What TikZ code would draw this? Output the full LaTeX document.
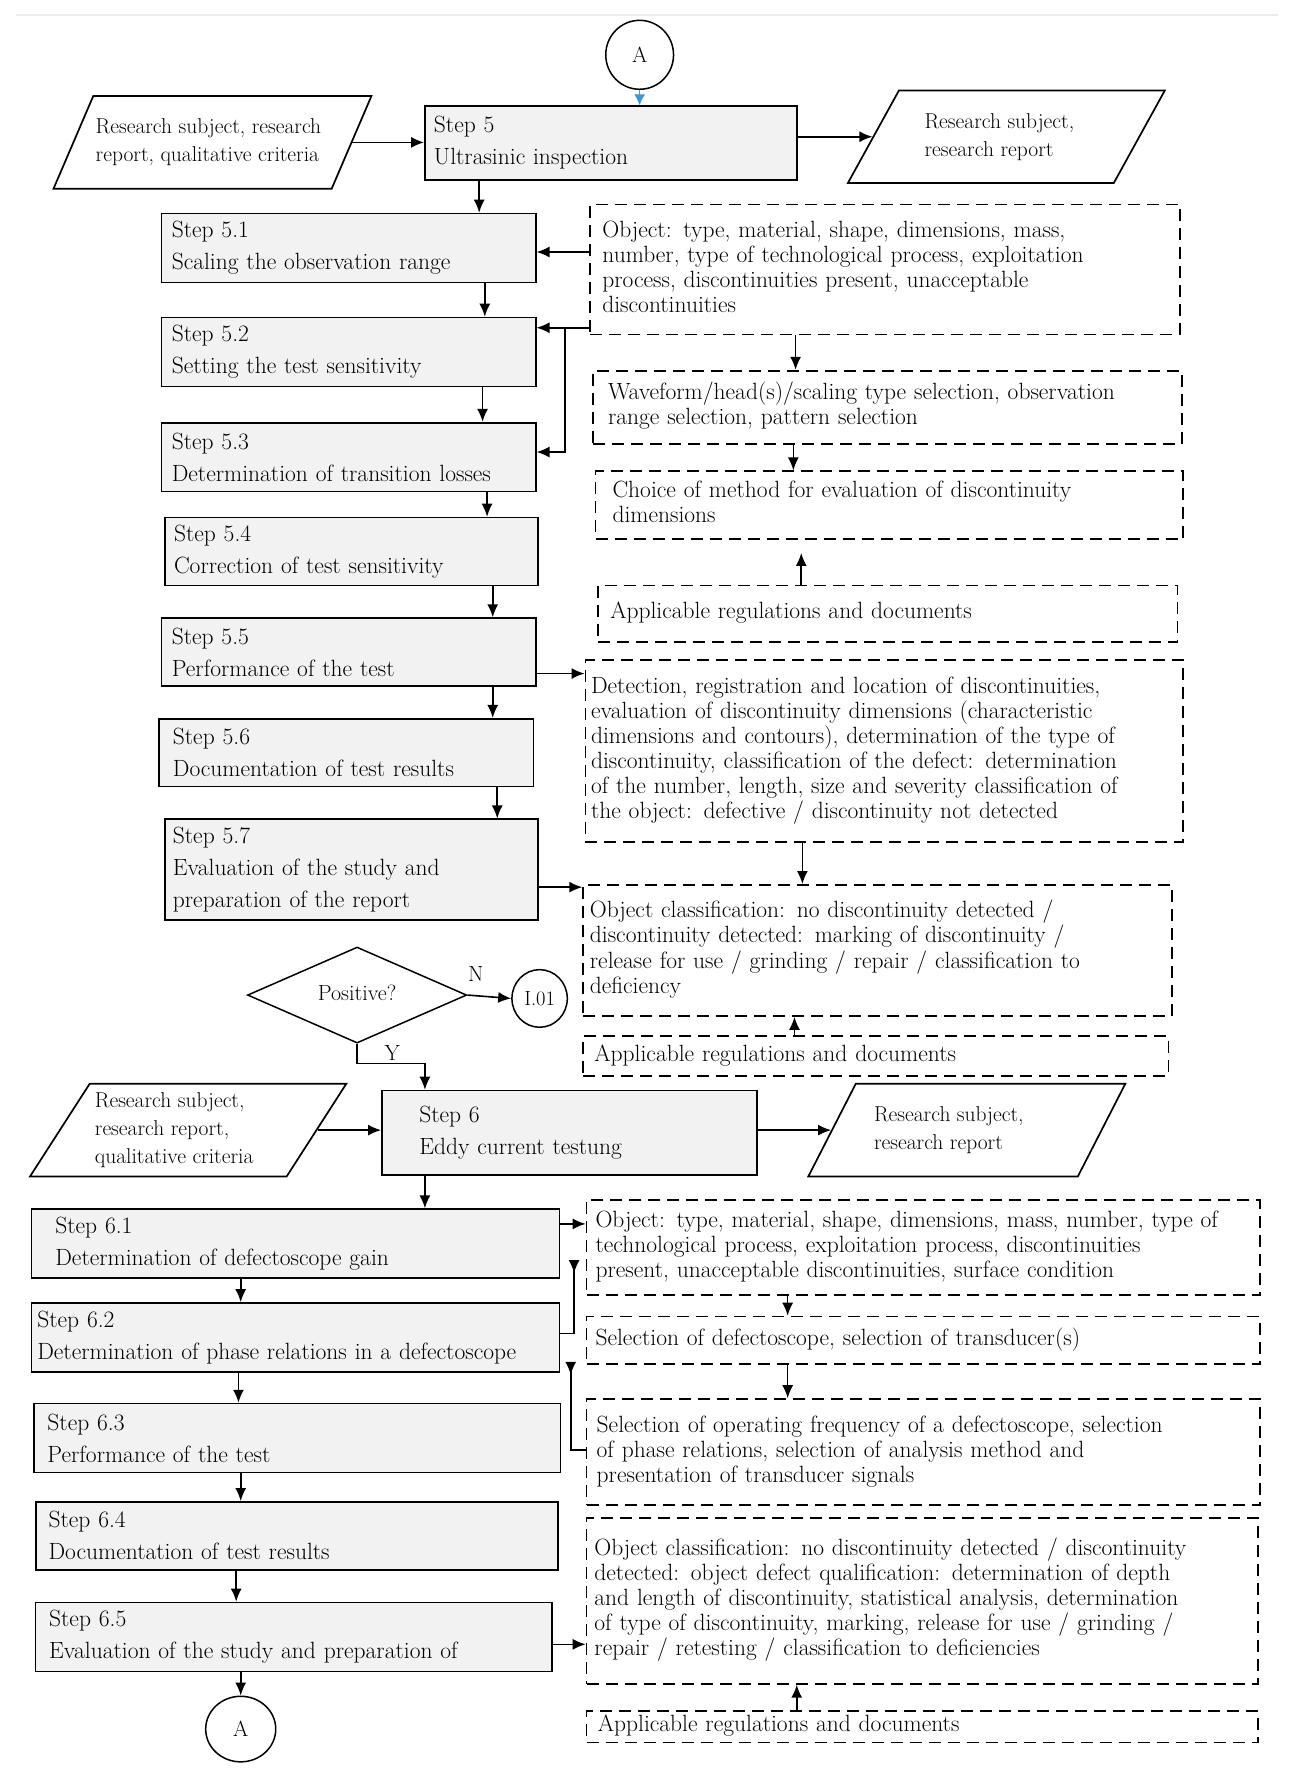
\documentclass[tikz,border=0pt]{standalone}
\usepackage{fontspec}
\usetikzlibrary{shapes.geometric,arrows.meta}
\definecolor{stepgray}{RGB}{242,242,242}
\definecolor{tipblue}{RGB}{60,150,215}
\definecolor{topline}{RGB}{236,236,236}
\newcommand\mylines[1]{\begin{tabular}{@{}l@{}}#1\end{tabular}}
\tikzset{
  sz/.style n args={3}{text width={(#1-2*#3)*1.13pt}, inner xsep={#3*1.13pt}, minimum height={#2*1.13pt}, inner ysep=0pt},
  stepbox/.style={draw, line width=1.7pt, fill=stepgray, rectangle, align=left, font=\fontsize{23.5}{32}\selectfont},
  dbox/.style={draw, line width=1.7pt, dash pattern=on 12pt off 7pt, rectangle, align=left, font=\fontsize{23.5}{25}\selectfont},
  para/.style n args={3}{draw, line width=1.7pt, trapezium, trapezium stretches=true, trapezium left angle=#3, trapezium right angle={180-#3}, minimum width={#1*1.13pt}, minimum height={#2*1.13pt}, inner sep=0pt, align=left, font=\fontsize{21.5}{28}\selectfont},
  arr/.style={line width=1.6pt, -{Latex[length=13pt,width=11pt]}},
  revarr/.style={line width=1.6pt, -{Latex[length=13pt,width=11pt,reversed]}},
  revarrs/.style={line width=1.6pt, {Latex[length=13pt,width=11pt,reversed]}-},
  lbl/.style={font=\fontsize{22}{24}\selectfont, inner sep=0pt},
}
\begin{document}
\begin{tikzpicture}[x=1.13pt, y=-1.13pt]
\fill[white] (0,0) rectangle (1146,1568);
\useasboundingbox (0,0) rectangle (1146,1568);
\draw[topline, line width=2pt] (14,13) -- (1131,13);

% ---- upper part ----
\node[draw, line width=1.5pt, ellipse, minimum width=60*1.13pt, minimum height=61*1.13pt, inner sep=0pt, font=\fontsize{22}{24}\selectfont] (A1) at (566,48.5) {A};
\node[stepbox, sz={329}{65}{8}] (s5) at (540.5,126.5) {Step 5\\Ultrasinic inspection};
\node[para={282}{82}{55.2}] (p1) at (188,126) {\mylines{Research subject, research\\report, qualitative criteria}\hspace*{8pt}};
\node[para={281}{82}{55.2}] (p2) at (890.5,121) {\mylines{Research subject,\\research report}\hspace*{14pt}};

\node[stepbox, sz={331}{61}{9}] (s51) at (308.5,219.5) {Step 5.1\\Scaling the observation range};
\node[stepbox, sz={331}{61}{9}] (s52) at (308.5,311.5) {Step 5.2\\Setting the test sensitivity};
\node[stepbox, sz={331}{61}{9}] (s53) at (308.5,404.5) {Step 5.3\\Determination of transition losses};
\node[stepbox, sz={330}{60}{8}] (s54) at (311,488) {Step 5.4\\Correction of test sensitivity};
\node[stepbox, sz={331}{60}{9}] (s55) at (308.5,577) {Step 5.5\\Performance of the test};
\node[stepbox, sz={331}{60}{12}] (s56) at (306.5,666) {Step 5.6\\Documentation of test results};
\node[stepbox, sz={330}{89}{7}] (s57) at (311,769.5) {Step 5.7\\Evaluation of the study and\\preparation of the report};

\node[dbox, sz={522}{115}{11}] (D1) at (783,238.5) {\mylines{Object: type, material, shape, dimensions, mass,\\number, type of technological process, exploitation\\process, discontinuities present, unacceptable\\discontinuities}};
\node[dbox, sz={521}{65}{13}] (D2) at (785.5,360.5) {\mylines{Waveform/head(s)/scaling type selection, observation\\range selection, pattern selection}};
\node[dbox, sz={520}{60}{15}] (D3) at (787,447) {\mylines{Choice of method for evaluation of discontinuity\\dimensions}};
\node[dbox, sz={513}{50}{11}] (D4) at (785.5,543) {\mylines{Applicable regulations and documents}};
\node[dbox, sz={529}{161}{5}] (D5) at (782.5,664.5) {\mylines{Detection, registration and location of discontinuities,\\evaluation of discontinuity dimensions (characteristic\\dimensions and contours), determination of the type of\\discontinuity, classification of the defect: determination\\of the number, length, size and severity classification of\\the object: defective / discontinuity not detected}};
\node[dbox, sz={521}{116}{6}] (D6) at (776.5,841) {\mylines{Object classification: no discontinuity detected /\\discontinuity detected: marking of discontinuity /\\release for use / grinding / repair / classification to\\deficiency}};
\node[dbox, sz={518}{35}{10}] (D7) at (775,934.5) {\mylines{Applicable regulations and documents}};

\node[draw, line width=1.5pt, diamond, aspect=2.28, minimum width=194*1.13pt, minimum height=85*1.13pt, inner sep=0pt, font=\fontsize{22}{24}\selectfont] (dec) at (316,880.5) {\raisebox{5pt}{Positive?}};
\node[draw, line width=1.5pt, ellipse, minimum width=49*1.13pt, minimum height=51*1.13pt, inner sep=0pt, font=\fontsize{20.5}{22}\selectfont] (I01) at (477.5,883.5) {I.01};
\node[lbl] (lN) at (421,862) {N};
\node[lbl] (lY) at (347,932) {Y};

% ---- lower part ----
\node[stepbox, sz={332}{75}{33}] (s6) at (504,1002.5) {Step 6\\Eddy current testung};
\node[para={281}{82}{56.1}] (p3) at (166.5,1000) {\mylines{Research subject,\\research report,\\qualitative criteria}\hspace*{28pt}};
\node[para={281}{82}{54.7}] (p4) at (855.5,1000) {\mylines{Research subject,\\research report}\hspace*{36pt}};

\node[stepbox, sz={467}{61}{21}] (s61) at (261.5,1100.5) {Step 6.1\\Determination of defectoscope gain};
\node[stepbox, sz={467}{61}{5}] (s62) at (261.5,1183.5) {Step 6.2\\\mbox{Determination of phase relations in a defectoscope}};
\node[stepbox, sz={466}{61}{12}] (s63) at (263,1272.5) {Step 6.3\\Performance of the test};
\node[stepbox, sz={462}{60}{11}] (s64) at (263,1359) {Step 6.4\\Documentation of test results};
\node[stepbox, sz={457}{61}{12}] (s65) at (260,1448.5) {Step 6.5\\Evaluation of the study and preparation of};
\node[draw, line width=1.5pt, ellipse, minimum width=62*1.13pt, minimum height=58*1.13pt, inner sep=0pt, font=\fontsize{22}{24}\selectfont] (A2) at (213,1530) {A};

\node[dbox, sz={596}{84}{8}] (D8) at (817,1104) {\mylines{Object: type, material, shape, dimensions, mass, number, type of\\technological process, exploitation process, discontinuities\\present, unacceptable discontinuities, surface condition}};
\node[dbox, sz={596}{42}{8}] (D9) at (817,1186) {\mylines{Selection of defectoscope, selection of transducer(s)}};
\node[dbox, sz={596}{94}{9}] (D10) at (817,1285) {\mylines{Selection of operating frequency of a defectoscope, selection\\of phase relations, selection of analysis method and\\presentation of transducer signals}};
\node[dbox, sz={594}{147}{7}] (D11) at (816,1416.5) {\mylines{Object classification: no discontinuity detected / discontinuity\\detected: object defect qualification: determination of depth\\and length of discontinuity, statistical analysis, determination\\of type of discontinuity, marking, release for use / grinding /\\repair / retesting / classification to deficiencies}};
\node[dbox, sz={594}{28}{10}] (D12) at (816,1528) {\mylines{Applicable regulations and documents}};

% ---- connectors ----
\draw[line width=1.5pt, tipblue, -{Latex[length=11pt,width=11pt]}] (A1.south) -- (A1.south |- s5.north);
\draw[arr] (p1.east) -- (p1.east -| s5.west);
\draw[arr] (p2.west -| s5.east) -- (p2.west);
\draw[arr] (s5.south -| 424,0) -- (s51.north -| 424,0);
\draw[arr] (D1.west |- 0,223) -- (s51.east |- 0,223);
\draw[arr] (D1.west |- 0,290) -- (s52.east |- 0,290);
\coordinate (j1) at (500,290);
\draw[arr] (j1) |- (s53.east |- 0,400);
\draw[arr] (s51.south -| 429,0) -- (s52.north -| 429,0);
\draw[arr] (s52.south -| 427,0) -- (s53.north -| 427,0);
\draw[arr] (s53.south -| 431,0) -- (s54.north -| 431,0);
\draw[arr] (s54.south -| 436,0) -- (s55.north -| 436,0);
\draw[arr] (s55.south -| 436,0) -- (s56.north -| 436,0);
\draw[arr] (s56.south -| 440,0) -- (s57.north -| 440,0);
\draw[arr] (D1.south -| 704,0) -- (D2.north -| 704,0);
\draw[arr] (D2.south -| 702,0) -- (D3.north -| 702,0);
\draw[arr, shorten >=13pt] (D4.north -| 709,0) -- (D3.south -| 709,0);
\draw[arr] (s55.east |- 0,596) -- (D5.west |- 0,596);
\draw[arr] (D5.south -| 710,0) -- (D6.north -| 710,0);
\draw[arr] (s57.east |- 0,785) -- (D6.west |- 0,785);
\draw[arr] (D7.north -| 703,0) -- (D6.south -| 703,0);
\draw[arr] (dec.east) -- (I01.west);
\coordinate (j2) at (376,941);
\draw[arr] (dec.south) |- (j2) -- (s6.north -| j2);
\draw[arr] (p3.east) -- (p3.east -| s6.west);
\draw[arr] (p4.west -| s6.east) -- (p4.west);
\draw[arr] (s6.south -| 376,0) -- (s61.north -| 376,0);
\draw[arr] (s61.south -| 213,0) -- (s62.north -| 213,0);
\draw[arr] (s62.south -| 211,0) -- (s63.north -| 211,0);
\draw[arr] (s63.south -| 213,0) -- (s64.north -| 213,0);
\draw[arr] (s64.south -| 209,0) -- (s65.north -| 209,0);
\draw[arr] (s65.south -| 213,0) -- (A2.north);
\draw[arr] (s61.east |- 0,1083) -- (D8.west |- 0,1083);
\coordinate (j3) at (508,1115);
\draw[revarr] (s62.east |- 0,1180) -| (j3);
\coordinate (j4) at (505,1205);
\draw[revarrs] (j4) |- (D10.west |- 0,1283);
\draw[arr] (D8.south -| 697,0) -- (D9.north -| 697,0);
\draw[arr] (D9.south -| 697,0) -- (D10.north -| 697,0);
\draw[arr] (s65.east |- 0,1455) -- (D11.west |- 0,1455);
\draw[arr] (D12.north -| 705,0) -- (D11.south -| 705,0);
\end{tikzpicture}
\end{document}
